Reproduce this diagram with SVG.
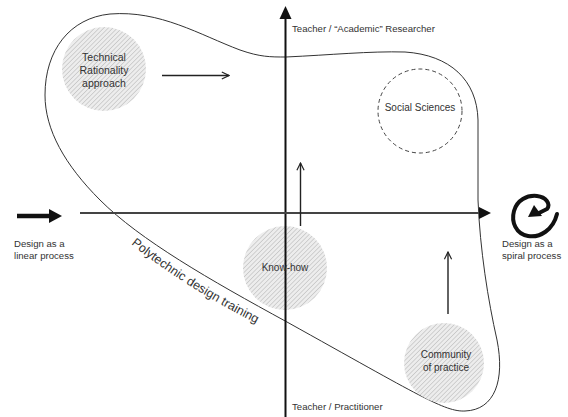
<svg xmlns="http://www.w3.org/2000/svg" width="568" height="417" viewBox="0 0 568 417">
<defs>
<pattern id="hatch" width="3.2" height="3.2" patternUnits="userSpaceOnUse" patternTransform="rotate(45)">
<rect width="3.2" height="3.2" fill="#ededed"/>
<line x1="0" y1="0" x2="0" y2="3.2" stroke="#b8b8b8" stroke-width="1.1"/>
</pattern>
<marker id="open" viewBox="0 0 10 10" refX="9" refY="5" markerWidth="9" markerHeight="9" markerUnits="userSpaceOnUse" orient="auto">
<path d="M1 1 L9 5 L1 9" fill="none" stroke="#222" stroke-width="1.3"/>
</marker>
</defs>
<style>
text{font-family:"Liberation Sans",Arial,sans-serif;fill:#333}
.c{text-anchor:middle}
.s96{font-size:9.6px}
.s10{font-size:10px}
.s105{font-size:10.5px}
.hatched{fill:url(#hatch);stroke:none}
.conn{stroke:#222;stroke-width:1.4;fill:none}
</style>
<rect width="568" height="417" fill="#fff"/>
<g id="region">
<path d="M286 57 C 330 55, 370 51, 405 52 C 450 55, 477 80, 478 120 L 478 200 C 480 250, 488 300, 497 340 C 505 380, 495 410, 465 411 C 445 412, 420 396, 287 322 C 210 280, 140 240, 100 200 C 65 165, 45 130, 45 95 C 45 50, 70 18, 110 14 C 160 10, 200 35, 240 50 C 260 57, 270 57, 286 57 Z" fill="none" stroke="#333" stroke-width="1"/>
<path id="lbl" d="M131 244 C 170 275, 210 300, 263 327" fill="none"/>
<text style="font-size:12.5px"><textPath href="#lbl">Polytechnic design training</textPath></text>
</g>
<g id="axes">
<line x1="285.5" y1="17" x2="285.5" y2="417" stroke="#111" stroke-width="2"/>
<polygon points="285.5,6 279.5,19 291.5,19" fill="#111"/>
<line x1="80" y1="213" x2="481" y2="213" stroke="#444" stroke-width="2"/>
<polygon points="491,213 479,207 479,219" fill="#111"/>
<text x="292" y="32" class="s96">Teacher / “Academic” Researcher</text>
<text x="292" y="410" class="s96">Teacher / Practitioner</text>
</g>
<g id="linear">
<line x1="17" y1="216" x2="51" y2="216" stroke="#111" stroke-width="4.5"/>
<polygon points="62,216 49,209 49,223" fill="#111"/>
<text x="14" y="247" class="s96">Design as a</text>
<text x="14" y="259" class="s96">linear process</text>
</g>
<g id="spiral">
<path d="M557 214 C 553 230, 540 238, 528 236 C 516 234, 511 222, 514 211 C 517 200, 527 195, 537 196 C 546 197, 551 204, 547 209 L 539 213" fill="none" stroke="#111" stroke-width="4" stroke-linecap="round"/>
<polygon points="528,217 534,205 542,216" fill="#111"/>
<text x="502" y="247" class="s96">Design as a</text>
<text x="502" y="259" class="s96">spiral process</text>
</g>
<g id="technical">
<circle cx="104" cy="69" r="42" class="hatched"/>
<text x="104" y="61" class="c s105">Technical</text>
<text x="104" y="74" class="c s105">Rationality</text>
<text x="104" y="87" class="c s105">approach</text>
</g>
<g id="social">
<circle cx="420" cy="111" r="42" fill="none" stroke="#444" stroke-width="1" stroke-dasharray="4,3"/>
<text x="420" y="111" class="c s10">Social Sciences</text>
</g>
<g id="knowhow">
<circle cx="285" cy="268" r="42" class="hatched"/>
<line x1="285.5" y1="226" x2="285.5" y2="310" stroke="#111" stroke-width="2"/>
<text x="285" y="271" class="c s10">Know-how</text>
</g>
<g id="community">
<circle cx="444" cy="363" r="40" class="hatched"/>
<text x="446" y="358" class="c s10">Community</text>
<text x="446" y="371" class="c s10">of practice</text>
</g>
<g id="connectors">
<line x1="162" y1="75.5" x2="229" y2="75.5" class="conn" marker-end="url(#open)"/>
<line x1="300.5" y1="226" x2="300.5" y2="163" class="conn" marker-end="url(#open)"/>
<line x1="448" y1="314" x2="448" y2="252" class="conn" marker-end="url(#open)"/>
</g>
</svg>
